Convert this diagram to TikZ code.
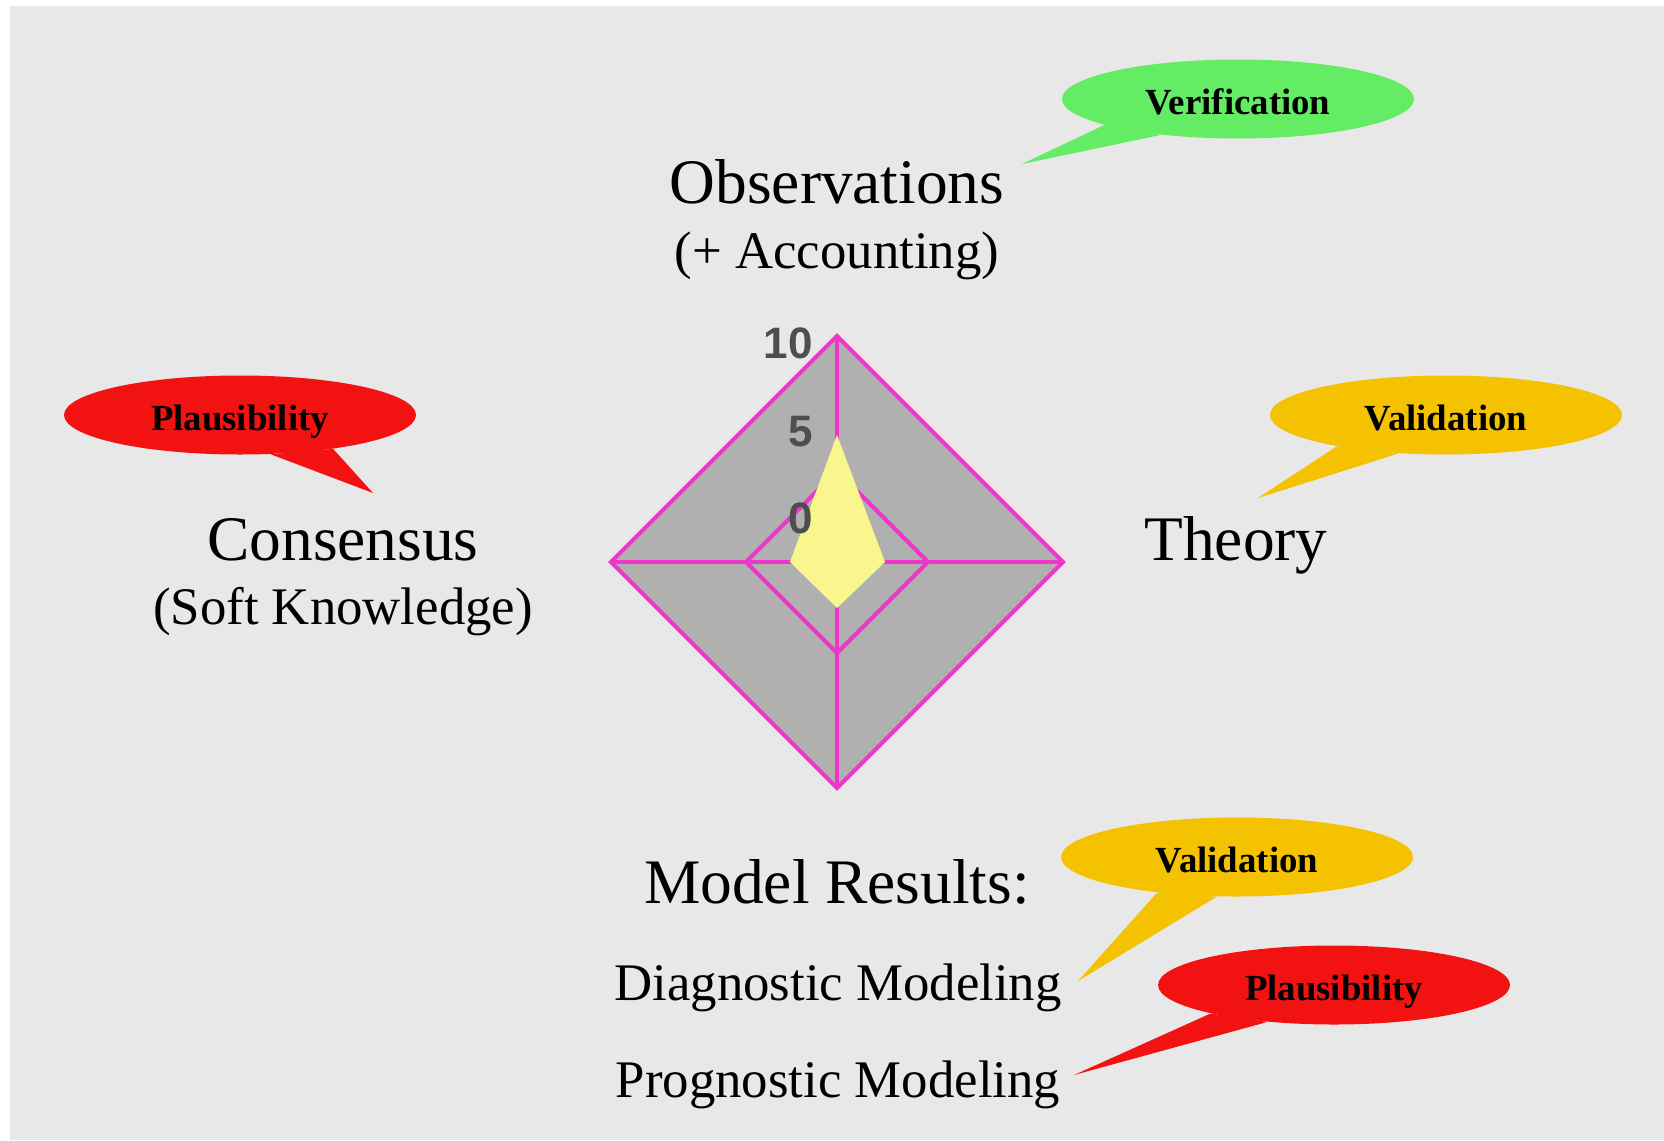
\documentclass[tikz,border=0pt]{standalone}
\usepackage{fontspec}
\setmainfont{Liberation Serif}
\newfontfamily\numfont{Liberation Sans}
\usepackage{xcolor}
\usepackage{tikz}
\usetikzlibrary{
  positioning,
  shapes.geometric
}
\definecolor{bggray}{RGB}{232,232,232}
\definecolor{gridpink}{RGB}{238,55,200}
\definecolor{areagray}{RGB}{176,176,176}
\definecolor{datayellow}{RGB}{248,246,140}
\definecolor{ticktext}{RGB}{78,78,78}
\definecolor{bubblegreen}{RGB}{100,236,100}
\definecolor{bubblered}{RGB}{242,18,18}
\definecolor{bubblegold}{RGB}{244,194,0}
\tikzset{
  gridline/.style={draw=gridpink,line width=2pt,line join=miter},
  axistitle/.style={anchor=base,inner sep=0pt,font=\fontsize{31.7}{36}\selectfont},
  axissub/.style={anchor=base,inner sep=0pt,font=\fontsize{26.4}{30}\selectfont},
  ticklabel/.style={anchor=east,inner sep=0pt,text=ticktext,font=\numfont\bfseries\fontsize{22}{24}\selectfont},
  bubble/.style={ellipse,inner sep=0pt,minimum width=176pt,minimum height=39.5pt,
    text height=15pt,text depth=0pt,font=\fontsize{18.4}{20}\selectfont\bfseries}
}

\begin{document}
\begin{tikzpicture}[x=0.5pt,y=-0.5pt]
    \useasboundingbox (0,0) rectangle (1664,1140);
    \fill[bggray] (10,6) rectangle (1664,1140);

    % radar chart
    \coordinate (c) at (837,562);
    \foreach \name/\x/\y in {ot/837/336,or/1063/562,ob/837/788,ol/611/562,
                              it/837/471,ir/928/562,ib/837/653,il/746/562,
                              dt/837/435,dr/885/562,db/837/608,dl/790/562}
        \coordinate (\name) at (\x,\y);
    \fill[areagray] (ot) -- (or) -- (ob) -- (ol) -- cycle;
    \foreach \v in {ot,or,ob,ol}
        \draw[gridline] (c) -- (\v);
    \draw[gridline] (it) -- (ir) -- (ib) -- (il) -- cycle;
    \fill[datayellow] (dt) -- (dr) -- (db) -- (dl) -- cycle;
    \draw[gridline] (ot) -- (or) -- (ob) -- (ol) -- cycle;

    \node[ticklabel] (t10) at (813,343) {10};
    \node[ticklabel] (t5) at (813,432) {5};
    \node[ticklabel] (t0) at (813,518) {0};

    % axis titles
    \node[axistitle] (obs) at (837,203) {Observations};
    \node[axissub] (acc) at (837,268) {(+ Accounting)};
    \node[axistitle] (cons) at (343,560) {Consensus};
    \node[axissub] (soft) at (343,624) {(Soft Knowledge)};
    \node[axistitle] (theo) at (1236,560) {Theory};
    \node[axistitle] (model) at (837,903) {Model Results:};
    \node[axissub] (diag) at (838,1000) {Diagnostic Modeling};
    \node[axissub] (prog) at (838,1097) {Prognostic Modeling};

    % speech bubbles
    \node[bubble,fill=bubblegreen] (verif) at (1238,99) {Verification};
    \coordinate (verifTip) at (1022,164);
    \fill[bubblegreen] (verif.191) -- (verifTip) -- (verif.205) -- cycle;

    \node[bubble,fill=bubblered] (plausL) at (240,415) {Plausibility};
    \coordinate (plausLTip) at (373,493);
    \fill[bubblered] (plausL.308) -- (plausLTip) -- (plausL.340) -- cycle;

    \node[bubble,fill=bubblegold] (validR) at (1446,415) {Validation};
    \coordinate (validRTip) at (1258,498);
    \fill[bubblegold] (validR.196) -- (validRTip) -- (validR.219) -- cycle;

    \node[bubble,fill=bubblegold] (validB) at (1237,857) {Validation};
    \coordinate (validBTip) at (1078,981);
    \fill[bubblegold] (validB.204) -- (validBTip) -- (validB.243) -- cycle;

    \node[bubble,fill=bubblered] (plausB) at (1334,985) {Plausibility};
    \coordinate (plausBTip) at (1074,1075);
    \fill[bubblered] (plausB.193) -- (plausBTip) -- (plausB.209) -- cycle;
\end{tikzpicture}
\end{document}
